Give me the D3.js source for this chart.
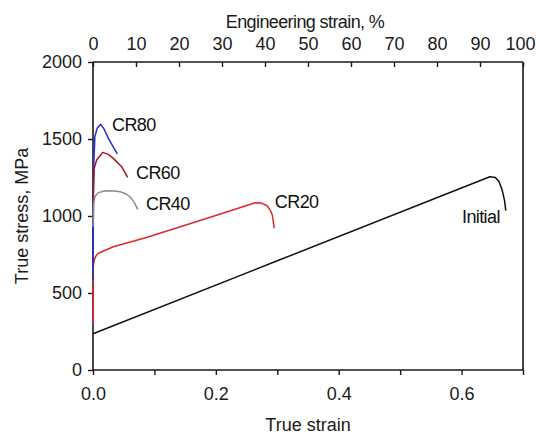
<!DOCTYPE html>
<html>
<head>
<meta charset="utf-8">
<script src="https://cdn.jsdelivr.net/npm/d3@7"></script>
<style>
  html, body { margin: 0; padding: 0; background: #fff; }
  svg { display: block; font-family: "Liberation Sans", Arial, sans-serif; }
</style>
</head>
<body>
<svg id="chart" width="536" height="437"></svg>
<script>
// ---- data (true strain, true stress MPa) ----
const seriesNames = ["Initial", "CR20", "CR80", "CR60", "CR40"];
const initialCurve = [[0, 235], [0.30, 709], [0.646, 1255], [0.655, 1250], [0.661, 1222], [0.666, 1170], [0.670, 1100], [0.672, 1035]];
const cr20Curve = [[0, 290], [0, 660], [0.002, 715], [0.005, 742], [0.0087, 758], [0.033, 800], [0.087, 860], [0.196, 998], [0.264, 1086], [0.274, 1084], [0.283, 1068], [0.289, 1035], [0.292, 1005], [0.295, 920]];
const cr80Curve = [[0, 580], [0.001, 1300], [0.003, 1515], [0.007, 1572], [0.0125, 1595], [0.018, 1565], [0.025, 1504], [0.032, 1455], [0.0396, 1403]];
const cr60Curve = [[0, 1100], [0.002, 1310], [0.006, 1364], [0.0157, 1413], [0.025, 1400], [0.033, 1374], [0.0467, 1320], [0.0564, 1251]];
const cr40Curve = [[0, 930], [0.001, 1080], [0.003, 1125], [0.008, 1150], [0.0195, 1164], [0.035, 1162], [0.044, 1158], [0.053, 1145], [0.060, 1125], [0.067, 1090], [0.0727, 1043]];
const seriesColors = ["#111111", "#e0262a", "#2a2ad2", "#a31a1f", "#8a8a8a"];
const labelAnchors = [[0.6007, 955], [0.296, 1052], [0.031, 1552], [0.070, 1240], [0.0863, 1039]];

const bottomTicks = [0, 0.1, 0.2, 0.3, 0.4, 0.5, 0.6, 0.7];
const bottomLabels = [0, 0.2, 0.4, 0.6];
const leftTicks = [0, 500, 1000, 1500, 2000];
const topTicks = [0, 10, 20, 30, 40, 50, 60, 70, 80, 90, 100];

const xTitle = "True strain";
const yTitle = "True stress, MPa";
const topTitle = "Engineering strain, %";

// ---- layout ----
const W = 536, H = 437;
const m = {left: 93, right: 13, top: 62, bottom: 67};
const svg = d3.select("#chart");
const x = d3.scaleLinear().domain([0, 0.7]).range([m.left, W - m.right]);
const y = d3.scaleLinear().domain([0, 2000]).range([H - m.bottom, m.top]);
const xTop = d3.scaleLinear().domain([0, 100]).range([m.left, W - m.right]);

const fontSize = 18;
const ink = "#1a1a1a";

const curves = [initialCurve, cr20Curve, cr80Curve, cr60Curve, cr40Curve];
const lineY = d3.line().x(d => x(d[0])).y(d => y(d[1])).curve(d3.curveLinear);

// axes
const gB = svg.append("g").attr("transform", `translate(0,${H - m.bottom})`)
  .call(d3.axisBottom(x).tickValues(bottomTicks).tickSize(5).tickPadding(12)
    .tickFormat(d => bottomLabels.some(v => Math.abs(v - d) < 1e-9) ? d3.format(".1f")(d) : ""));
const gL = svg.append("g").attr("transform", `translate(${m.left},0)`)
  .call(d3.axisLeft(y).tickValues(leftTicks).tickSize(5).tickPadding(6).tickFormat(d3.format("d")));
const gT = svg.append("g").attr("transform", `translate(0,${m.top})`)
  .call(d3.axisTop(xTop).tickValues(topTicks).tickSize(-5).tickPadding(12).tickFormat(d3.format("d")));
const gR = svg.append("g").attr("transform", `translate(${W - m.right},0)`)
  .call(d3.axisRight(y).tickValues([]).tickSizeOuter(0));

[gB, gL, gT, gR].forEach(g => {
  g.selectAll("path.domain").attr("stroke", ink).attr("stroke-width", 1.6);
  g.selectAll(".tick line").attr("stroke", ink).attr("stroke-width", 1.4);
  g.selectAll(".tick text").attr("fill", ink).attr("font-size", fontSize)
    .attr("font-family", "Liberation Sans, Arial, sans-serif");
});
gB.select("path.domain").attr("d", `M${m.left},0H${W - m.right}`);
gL.select("path.domain").attr("d", `M0,${m.top}V${H - m.bottom}`);
gT.select("path.domain").attr("d", `M${m.left},0H${W - m.right}`);
gR.select("path.domain").attr("d", `M0,${m.top}V${H - m.bottom}`);
// keep the last top label inside the window
gT.selectAll(".tick text").filter(d => d === 100).attr("dx", -3);

// draw curves
curves.forEach((c, i) => {
  svg.append("path").datum(c)
    .attr("fill", "none")
    .attr("stroke", seriesColors[i])
    .attr("stroke-width", 1.5)
    .attr("stroke-linejoin", "round")
    .attr("d", lineY);
});

// curve labels
seriesNames.forEach((name, i) => {
  svg.append("text")
    .attr("x", x(labelAnchors[i][0]))
    .attr("y", y(labelAnchors[i][1]))
    .attr("font-size", 18)
    .attr("fill", "#111")
    .attr("letter-spacing", "-0.6")
    .text(name);
});

// titles
svg.append("text").attr("x", (m.left + W - m.right) / 2).attr("y", 431)
  .attr("text-anchor", "middle").attr("font-size", fontSize).attr("fill", ink).text(xTitle);
svg.append("text").attr("x", 305).attr("y", 28)
  .attr("text-anchor", "middle").attr("font-size", fontSize).attr("fill", ink)
  .attr("letter-spacing", "-0.6").text(topTitle);
svg.append("text")
  .attr("transform", `translate(28,${(m.top + H - m.bottom) / 2}) rotate(-90)`)
  .attr("text-anchor", "middle").attr("font-size", fontSize).attr("fill", ink).text(yTitle);
</script>
</body>
</html>
